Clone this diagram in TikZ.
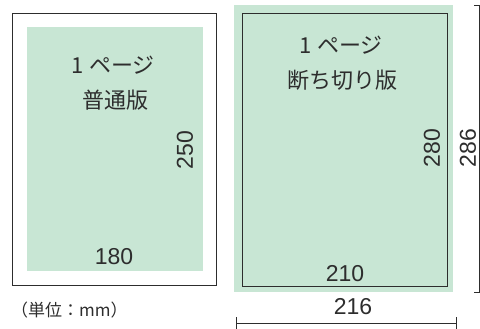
\documentclass[tikz,border=0pt]{standalone}
\usepackage{fontspec}
\setmainfont{Noto Sans CJK JP}
\newfontfamily\digits{Liberation Sans}
\definecolor{pagegreen}{RGB}{200,230,212}
\definecolor{ink}{RGB}{45,45,45}
\begin{document}
\begin{tikzpicture}[x=1pt,y=-1pt,
  lbl/.style={font=\fontsize{22}{24}\selectfont, text=ink, inner sep=0pt},
  num/.style={font=\digits\fontsize{23}{24}\selectfont, text=ink, inner sep=0pt},
  frame/.style={draw=ink, line width=0.9pt},
  dimline/.style={draw=ink, line width=0.8pt}]
\useasboundingbox (0,0) rectangle (480,329);
% left: normal page
\node[frame, minimum width=204pt, minimum height=272pt, inner sep=0pt, anchor=north west] (lout) at (12,13) {};
\node[fill=pagegreen, minimum width=176pt, minimum height=244pt, inner sep=0pt, anchor=north west] (lg) at (27,27) {};
\node[lbl] (l1) at (113,65) {1\hspace{6pt}ページ};
\node[lbl] (l2) at (115,100) {普通版};
\node[num, rotate=90] (l250) at (185,150) {250};
\node[num] (l180) at (114,257) {180};
\node[font=\fontsize{17}{18}\selectfont, text=ink, inner sep=0pt, anchor=west] (unit) at (11,310) {（単位：mm）};
% right: bleed page
\node[fill=pagegreen, minimum width=219pt, minimum height=287pt, inner sep=0pt, anchor=north west] (rg) at (234,5) {};
\node[frame, line width=0.8pt, minimum width=205pt, minimum height=273pt, inner sep=0pt, anchor=north west] (rin) at (242,13) {};
\node[lbl] (r1) at (341,45) {1\hspace{6pt}ページ};
\node[lbl] (r2) at (342,80) {断ち切り版};
\node[num, rotate=90] (r280) at (432,148) {280};
\node[num, rotate=90] (r286) at (468,148) {286};
\node[num] (r210) at (345,274) {210};
\node[num] (r216) at (353,307) {216};
% dimension lines
\coordinate (vt) at (479.6,5);
\coordinate (vb) at (479.6,292);
\draw[dimline] (vt) -- (vb);
\draw[dimline] (474,5) -- (vt);
\draw[dimline] (474,292) -- (vb);
\coordinate (hl) at (236,323);
\coordinate (hr) at (456,323);
\draw[dimline] (hl) -- (hr);
\draw[dimline] (236,317) -- (236,329);
\draw[dimline] (456,317) -- (456,329);
\end{tikzpicture}
\end{document}
